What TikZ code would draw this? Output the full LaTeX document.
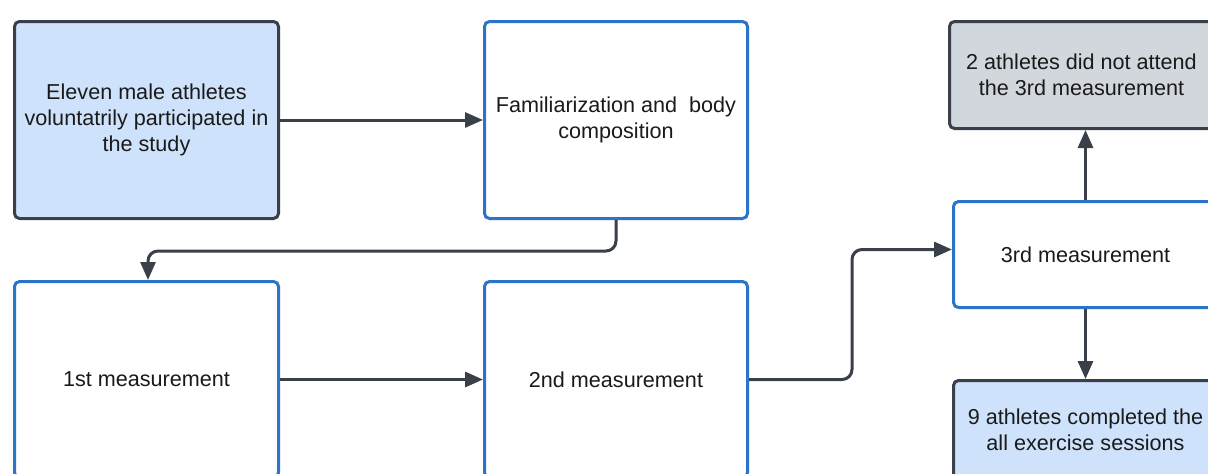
\documentclass[tikz,border=0pt]{standalone}
\usepackage{fontspec}
\setmainfont{Liberation Sans}
\usetikzlibrary{arrows.meta}
\definecolor{lblue}{HTML}{CFE2FC}
\definecolor{lgray}{HTML}{D2D6DD}
\definecolor{bblue}{HTML}{2B74C8}
\definecolor{dgray}{HTML}{3A4049}
\definecolor{txt}{HTML}{1A1A1A}
\begin{document}
\begin{tikzpicture}[x=1pt,y=-1pt,
  basebox/.style={anchor=north west, rounded corners=5pt, line width=3pt, inner sep=0pt,
    align=center, text=txt, font=\fontsize{21.6}{26}\selectfont},
  bluebox/.style={basebox, draw=bblue, fill=white},
  darkbox/.style={basebox, draw=dgray, fill=lblue},
  graybox/.style={basebox, draw=dgray, fill=lgray},
  conn/.style={draw=dgray, line width=3pt, rounded corners=10pt, -{Triangle[length=18pt,width=15pt]}}]
\useasboundingbox (0,0) rectangle (1208,474);
\clip (0,0) rectangle (1208,474);
\fill[white] (0,0) rectangle (1208,474);
\node[darkbox, minimum width=264pt, minimum height=197pt] (n1) at (13,20)
  {Eleven male athletes\\voluntatrily participated in\\the study};
\node[bluebox, minimum width=263pt, minimum height=197pt] (n2) at (483,20)
  {Familiarization and\ \ body\\composition};
\node[graybox, minimum width=264pt, minimum height=107pt] (n3) at (948,20)
  {2 athletes did not attend\\the 3rd measurement};
\node[bluebox, minimum width=264pt, minimum height=106pt] (n4) at (952,200)
  {3rd measurement};
\node[darkbox, minimum width=264pt, minimum height=98pt] (n5) at (952,379)
  {9 athletes completed the\\all exercise sessions};
\node[bluebox, minimum width=264pt, minimum height=196pt] (n6) at (13,280)
  {1st measurement};
\node[bluebox, minimum width=263pt, minimum height=196pt] (n7) at (483,280)
  {2nd measurement};
\draw[conn] (n1.east) -- (n2.west);
\draw[conn] (n2.south) -- ++(0,31) -| ([xshift=1.5pt]n6.north);
\draw[conn] (n6.east) -- (n7.west);
\draw[conn] (n7.east) -- ++(103,0) |- ([yshift=5pt]n4.west);
\draw[conn] (n4.north) -- (n4.north |- n3.south);
\draw[conn] (n4.south) -- (n5.north);
\end{tikzpicture}
\end{document}
